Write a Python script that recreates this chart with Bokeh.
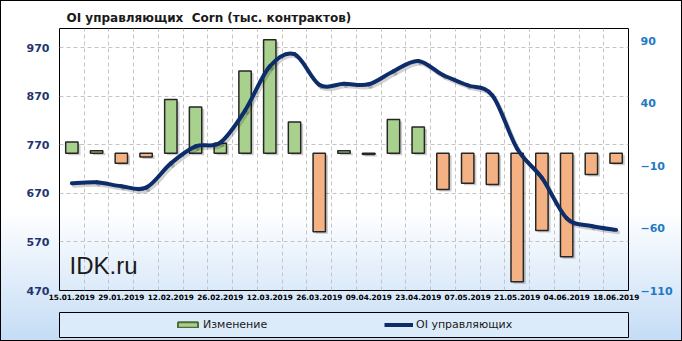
import numpy as np
from bokeh.plotting import figure
from bokeh.layouts import column
from bokeh.models import (Range1d, LinearAxis, FixedTicker, Label, Legend,
                          LegendItem, ColumnDataSource)
from bokeh.embed import file_html
from bokeh.resources import INLINE

# ---- data ----
dates = ["15.01.2019", "22.01.2019", "29.01.2019", "05.02.2019", "12.02.2019",
         "19.02.2019", "26.02.2019", "05.03.2019", "12.03.2019", "19.03.2019",
         "26.03.2019", "02.04.2019", "09.04.2019", "16.04.2019", "23.04.2019",
         "30.04.2019", "07.05.2019", "14.05.2019", "21.05.2019", "28.05.2019",
         "04.06.2019", "11.06.2019", "18.06.2019"]
oi = [691, 693, 685, 682, 732, 767, 775, 841, 932, 957, 894, 896, 895,
      922, 943, 914, 893, 872, 762, 702, 619, 603, 595]
change = [9, 2, -8, -3, 43, 37, 8, 66, 91, 25, -63, 2, -1,
          27, 21, -29, -24, -25, -103, -62, -83, -17, -8]
left_ticks = [470, 570, 670, 770, 870, 970]
right_ticks = [-110, -60, -10, 40, 90]
title_text = "OI управляющих\u00a0 Corn (тыс. контрактов)"
series_names = ["Изменение", "OI управляющих"]

GREEN = "#A9D18E"
ORANGE = "#F4B183"
NAVY = "#0C2C6A"
EDGE = "#262626"

n = len(dates)
x = list(range(n))

p = figure(width=682, height=308, output_backend="svg", toolbar_location=None,
           x_range=Range1d(-0.5, n - 0.5), y_range=Range1d(470, 1010),
           min_border_left=58, min_border_right=54, min_border_top=28,
           min_border_bottom=18)
p.border_fill_alpha = 0
p.background_fill_alpha = 0
p.outline_line_color = "#000000"
p.outline_line_width = 1

p.title.text = title_text
p.title.align = "left"
p.title.offset = 7
p.title.standoff = 7
p.title.text_font = "DejaVu Sans"
p.title.text_font_style = "bold"
p.title.text_font_size = "12px"
p.title.text_color = "#1A1A1A"

p.extra_y_ranges = {"chg": Range1d(-110, 100)}

# axes
p.xaxis.ticker = FixedTicker(ticks=x[::2])
p.xaxis.major_label_overrides = {i: dates[i] for i in x[::2]}
p.xaxis.major_label_text_font = "DejaVu Sans"
p.xaxis.major_label_text_font_style = "bold"
p.xaxis.major_label_text_font_size = "7.3px"
p.xaxis.major_label_text_color = "#000000"
p.xaxis.major_label_standoff = 3

p.yaxis.ticker = FixedTicker(ticks=left_ticks)
p.yaxis.major_label_text_font = "DejaVu Sans"
p.yaxis.major_label_text_font_style = "bold"
p.yaxis.major_label_text_font_size = "11px"
p.yaxis.major_label_text_color = "#1F3770"
p.yaxis.major_label_standoff = 10

raxis = LinearAxis(y_range_name="chg", ticker=FixedTicker(ticks=right_ticks))
raxis.major_label_text_font = "DejaVu Sans"
raxis.major_label_text_font_style = "bold"
raxis.major_label_text_font_size = "11px"
raxis.major_label_text_color = "#2279C6"
raxis.major_label_standoff = 12
p.add_layout(raxis, "right")

for ax in [p.xaxis[0], p.yaxis[0], raxis]:
    ax.axis_line_color = None
    ax.major_tick_line_color = None
    ax.minor_tick_line_color = None
    ax.major_tick_out = 0
    ax.major_tick_in = 0
    ax.minor_tick_out = 0
    ax.minor_tick_in = 0

# grids
p.xgrid.ticker = FixedTicker(ticks=[i + 0.5 for i in range(n - 1)])
p.ygrid.ticker = FixedTicker(ticks=left_ticks)
for g in [p.xgrid[0], p.ygrid[0]]:
    g.grid_line_color = "#C4C4C4"
    g.grid_line_dash = "4 3"
    g.grid_line_width = 1

# bars (with a soft shadow)
colors = [GREEN if c >= 0 else ORANGE for c in change]
src = ColumnDataSource(dict(x=x, top=change, bottom=[0] * n, color=colors))
p.vbar(x=[v + 0.1 for v in x], top=[c - 1.6 for c in change], bottom=[-1.6] * n,
       width=0.5, y_range_name="chg", fill_color="#000000", fill_alpha=0.2,
       line_color=None)
bars = p.vbar(x="x", top="top", bottom="bottom", width=0.5, source=src,
              y_range_name="chg", fill_color="color", line_color=EDGE,
              line_width=1.5)

# smooth line via bezier segments (Catmull-Rom control points)
xs = np.array(x, dtype=float)
ys = np.array(oi, dtype=float)
xp = np.concatenate([[xs[0]], xs, [xs[-1]]])
yp = np.concatenate([[ys[0]], ys, [ys[-1]]])
x0, y0 = xs[:-1], ys[:-1]
x1, y1 = xs[1:], ys[1:]
cx0 = x0 + (xp[2:-1] - xp[0:-3]) / 6.0
cy0 = y0 + (yp[2:-1] - yp[0:-3]) / 6.0
cx1 = x1 - (xp[3:] - xp[1:-2]) / 6.0
cy1 = y1 - (yp[3:] - yp[1:-2]) / 6.0
sh = 5.0  # shadow offset in value units (~2.5px)
p.bezier(x0=x0 + 0.08, y0=y0 - sh, x1=x1 + 0.08, y1=y1 - sh, cx0=cx0 + 0.08,
         cy0=cy0 - sh, cx1=cx1 + 0.08, cy1=cy1 - sh, line_color="#000000",
         line_alpha=0.18, line_width=4, line_cap="round")
line = p.bezier(x0=x0, y0=y0, x1=x1, y1=y1, cx0=cx0, cy0=cy0, cx1=cx1, cy1=cy1,
                line_color=NAVY, line_width=4, line_cap="round")

# watermark
p.add_layout(Label(x=10, y=12, x_units="screen", y_units="screen",
                   text="IDK.ru", text_font="Liberation Sans",
                   text_font_size="24px", text_color="#1A1A1A",
                   text_baseline="bottom", text_align="left"))

# ---- legend strip ----
lf = figure(width=682, height=33, output_backend="svg", toolbar_location=None,
            x_range=Range1d(0, 1), y_range=Range1d(0, 1),
            min_border_left=59, min_border_right=54, min_border_top=4,
            min_border_bottom=4)
lf.axis.visible = False
lf.grid.visible = False
lf.border_fill_alpha = 0
lf.background_fill_color = "#DCEBFA"
lf.outline_line_color = "#000000"
lf.outline_line_width = 1
# legend proxies (placed outside the visible range of the strip)
lg_bar = lf.vbar(x=[9], top=[9], bottom=[8], width=0.5, fill_color=GREEN,
                 line_color="#4E6B3A", line_width=2)
lg_line = lf.line(x=[8, 9], y=[8, 9], line_color=NAVY, line_width=4)


def mk_legend(item, loc, gw):
    return Legend(items=[item], location=loc, orientation="horizontal",
                  padding=0, margin=0, spacing=0, border_line_color=None,
                  background_fill_alpha=0, glyph_width=gw, glyph_height=7,
                  label_standoff=3, label_text_font="DejaVu Sans",
                  label_text_font_size="11px", label_text_color="#1A1A1A",
                  label_height=12)


lf.add_layout(mk_legend(LegendItem(label=series_names[0], renderers=[lg_bar]),
                        (116, 6), 25), "center")
lf.add_layout(mk_legend(LegendItem(label=series_names[1], renderers=[lg_line]),
                        (325, 6), 29), "center")

layout = column(p, lf, spacing=0)
layout.styles = {"background": "linear-gradient(to bottom, #FFFFFF 0%, #FFFFFF 62%, #C4DCF6 100%)",
                 "outline": "1px solid #000000", "outline-offset": "-1px"}

open("out.html", "w").write(file_html(layout, INLINE))
